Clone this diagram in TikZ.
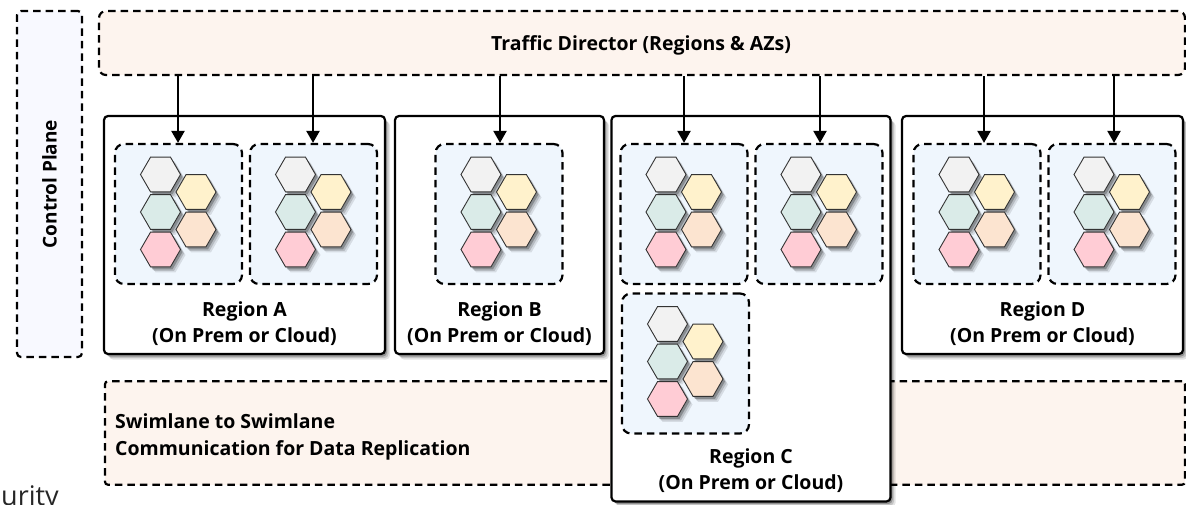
\documentclass[tikz,border=0pt]{standalone}
\usepackage{fontspec}
\setmainfont{Open Sans}
\usetikzlibrary{shapes.geometric}
\usetikzlibrary{shadows}
\usetikzlibrary{arrows.meta}
\definecolor{planefill}{HTML}{F8F9FF}
\definecolor{lanefill}{HTML}{FDF4EE}
\definecolor{zonefill}{HTML}{EFF6FD}
\definecolor{hexgray}{HTML}{F2F2F2}
\definecolor{hexyellow}{HTML}{FFF2CC}
\definecolor{hexteal}{HTML}{DAEBE8}
\definecolor{hexorange}{HTML}{FCE4D0}
\definecolor{hexpink}{HTML}{FFCCD5}
\tikzset{
	softshadow/.style={
		general shadow={shadow xshift=5pt,shadow yshift=-5.5pt,fill=black,opacity=.1},
		general shadow={shadow xshift=3.5pt,shadow yshift=-4pt,fill=black,opacity=.15},
		general shadow={shadow xshift=2pt,shadow yshift=-2.5pt,fill=black,opacity=.25}},
	lane/.style={draw=black,line width=2.2pt,dash pattern=on 7.5pt off 5pt,rounded corners=7pt,fill=lanefill,font=\bfseries\fontsize{19.5}{26.5}\selectfont,inner sep=0pt},
	zone/.style={draw=black,line width=2.2pt,dash pattern=on 7.5pt off 5pt,rounded corners=9pt,fill=zonefill,minimum width=127pt,minimum height=140pt,inner sep=0pt},
	region/.style={draw=black,line width=2.2pt,rounded corners=4pt,fill=white,inner sep=0pt,softshadow},
	regionlabel/.style={font=\bfseries\fontsize{19.5}{26.5}\selectfont,align=center,inner sep=0pt},
	hexa/.style={draw=black!80,line width=.9pt,regular polygon,regular polygon sides=6,minimum size=40pt,inner sep=0pt,softshadow},
	flow/.style={line width=2.2pt,-{Triangle[length=12pt,width=13pt]}},
}
% five hexagons of one zone
\newcommand{\hexset}[1]{
	\node[hexa,fill=hexgray] (#1h1) at ([shift={(-18,-39.5)}]#1.center) {};
	\node[hexa,fill=hexyellow] (#1h2) at ([shift={(17.5,-22)}]#1.center) {};
	\node[hexa,fill=hexteal] (#1h3) at ([shift={(-18,-2)}]#1.center) {};
	\node[hexa,fill=hexorange] (#1h4) at ([shift={(17.5,15.5)}]#1.center) {};
	\node[hexa,fill=hexpink] (#1h5) at ([shift={(-18,35.5)}]#1.center) {};
}
\begin{document}
\begin{tikzpicture}[x=1pt,y=-1pt]
	\useasboundingbox (0,0) rectangle (1186,504);

	\node[lane,rounded corners=4pt,fill=planefill,minimum width=65pt,minimum height=346pt] (control) at (49.5,184) {};
	\node[rotate=90,font=\bfseries\fontsize{19}{24}\selectfont] (controllabel) at (49.5,184) {Control Plane};
	\node[lane,minimum width=1086pt,minimum height=64pt] (director) at (642,43) {};
	\node[font=\bfseries\fontsize{19.5}{24}\selectfont,inner sep=0pt] (directorlabel) at (641,45.5) {Traffic Director (Regions \& AZs)};
	\node[lane,rounded corners=3pt,minimum width=1080pt,minimum height=103.5pt] (swimlane) at (645,433) {};
	\node[font=\bfseries\fontsize{19.5}{26.5}\selectfont,align=left,anchor=west,inner sep=0pt] (swimlabel) at (115,437) {Swimlane to Swimlane\\Communication for Data Replication};
	\node[font=\fontsize{27}{30}\selectfont,anchor=base west,inner sep=0pt,text=black!85] (cutoff) at (1,505) {urity};

	\node[region,minimum width=281pt,minimum height=238pt] (regiona) at (244.5,235) {};
	\node[region,minimum width=209pt,minimum height=238pt] (regionb) at (499.5,235) {};
	\node[region,minimum width=279pt,minimum height=385.5pt] (regionc) at (751,308.7) {};
	\node[region,minimum width=281pt,minimum height=238pt] (regiond) at (1042.5,235) {};

	\node[zone] (zonea1) at (178.5,214) {};
	\node[zone] (zonea2) at (313.5,214) {};
	\node[zone] (zoneb1) at (499,214) {};
	\node[zone] (zonec1) at (684,214) {};
	\node[zone] (zonec2) at (819,214) {};
	\node[zone] (zonec3) at (685.5,363.5) {};
	\node[zone] (zoned1) at (977,214) {};
	\node[zone] (zoned2) at (1112,214) {};

	\foreach \zn in {zonea1,zonea2,zoneb1,zonec1,zonec2,zonec3,zoned1,zoned2}{
		\hexset{\zn}
	}

	\draw[flow] ([xshift=-.5pt]director.south-|zonea1.north)--([xshift=-.5pt]zonea1.north);
	\draw[flow] ([xshift=-.5pt]director.south-|zonea2.north)--([xshift=-.5pt]zonea2.north);
	\draw[flow] ([xshift=1pt]director.south-|zoneb1.north)--([xshift=1pt]zoneb1.north);
	\draw[flow] (director.south-|zonec1.north)--(zonec1.north);
	\draw[flow] ([xshift=1pt]director.south-|zonec2.north)--([xshift=1pt]zonec2.north);
	\draw[flow] ([xshift=7pt]director.south-|zoned1.north)--([xshift=7pt]zoned1.north);
	\draw[flow] ([xshift=2pt]director.south-|zoned2.north)--([xshift=2pt]zoned2.north);

	\node[regionlabel] (labela) at (244.5,323.5) {Region A\\(On Prem or Cloud)};
	\node[regionlabel] (labelb) at (499.5,323.5) {Region B\\(On Prem or Cloud)};
	\node[regionlabel] (labelc) at (751,470.5) {Region C\\(On Prem or Cloud)};
	\node[regionlabel] (labeld) at (1042.5,323.5) {Region D\\(On Prem or Cloud)};
\end{tikzpicture}
\end{document}
